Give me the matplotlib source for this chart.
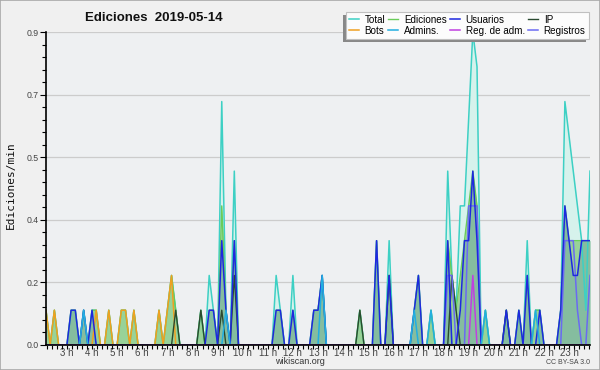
import matplotlib
matplotlib.use("Agg")
import matplotlib.pyplot as plt
from matplotlib.patches import Rectangle
from matplotlib.ticker import FixedLocator, MultipleLocator
import numpy as np

# 10-minute bins from 02:10 to 23:50, value = edits per minute
start_time = "02:10"
end_time = "23:50"

total_t = ["02:10", "02:30", "03:10", "03:20", "03:40", "04:00", "04:10", "04:40",
           "05:10", "05:20", "05:40", "06:40", "07:00", "07:10", "07:20", "08:20",
           "08:40", "08:50", "09:10", "09:20", "09:40", "11:20", "11:30", "12:00",
           "12:50", "13:00", "13:10", "14:40", "15:20", "15:50", "16:50", "17:00",
           "17:30", "18:10", "18:20", "18:30", "18:40", "18:50", "19:00", "19:10",
           "19:20", "19:40", "20:30", "21:00", "21:20", "21:40", "21:50", "22:40",
           "22:50", "23:00", "23:10", "23:20", "23:30", "23:40", "23:50"]
total_v = [0.1, 0.1, 0.1, 0.1, 0.1, 0.1, 0.1, 0.1,
           0.1, 0.1, 0.1, 0.1, 0.1, 0.2, 0.1, 0.1,
           0.2, 0.1, 0.7, 0.1, 0.5, 0.2, 0.1, 0.2,
           0.1, 0.1, 0.2, 0.1, 0.3, 0.3, 0.1, 0.2,
           0.1, 0.5, 0.2, 0.1, 0.4, 0.4, 0.65, 0.9,
           0.8, 0.1, 0.1, 0.1, 0.3, 0.1, 0.1, 0.1,
           0.7, 0.6, 0.5, 0.4, 0.3, 0.1, 0.5]

edits_t = ["02:10", "02:30", "03:10", "03:20", "03:40", "04:00", "04:10", "04:40",
           "05:10", "05:20", "05:40", "06:40", "07:00", "07:10", "07:20", "08:20",
           "08:40", "08:50", "09:10", "09:20", "09:40", "11:20", "11:30", "12:00",
           "12:50", "13:00", "13:10", "14:40", "15:20", "15:50", "16:50", "17:00",
           "17:30", "18:10", "18:20", "18:30", "18:40", "18:50", "19:00", "19:10",
           "19:20", "19:40", "20:30", "21:00", "21:20", "21:40", "21:50", "22:40",
           "22:50", "23:00", "23:10", "23:20", "23:30", "23:40", "23:50"]
edits_v = [0.1, 0.1, 0.1, 0.1, 0.1, 0.1, 0.1, 0.1,
           0.1, 0.1, 0.1, 0.1, 0.1, 0.2, 0.1, 0.1,
           0.1, 0.1, 0.4, 0.1, 0.3, 0.1, 0.1, 0.1,
           0.1, 0.1, 0.2, 0.1, 0.3, 0.2, 0.1, 0.2,
           0.1, 0.3, 0.2, 0.1, 0.2, 0.3, 0.4, 0.5,
           0.4, 0.1, 0.1, 0.1, 0.2, 0.1, 0.1, 0.1,
           0.4, 0.3, 0.3, 0.3, 0.3, 0.3, 0.3]

users_t = ["03:10", "03:20", "03:40", "04:00", "08:40", "08:50", "09:10", "09:20",
           "09:40", "11:20", "11:30", "12:00", "12:50", "13:00", "13:10", "15:20",
           "15:50", "16:50", "17:00", "18:10", "18:40", "18:50", "19:00", "19:10",
           "19:20", "20:30", "21:00", "21:20", "21:50", "22:40", "22:50", "23:00",
           "23:10", "23:20", "23:30", "23:40", "23:50"]
users_v = [0.1, 0.1, 0.1, 0.1, 0.1, 0.1, 0.3, 0.1,
           0.3, 0.1, 0.1, 0.1, 0.1, 0.1, 0.2, 0.3,
           0.2, 0.1, 0.2, 0.3, 0.1, 0.3, 0.3, 0.5,
           0.3, 0.1, 0.1, 0.2, 0.1, 0.1, 0.4, 0.3,
           0.2, 0.2, 0.3, 0.3, 0.3]

ip_t = ["07:20", "08:20", "09:10", "09:40", "14:40", "15:50", "18:20", "18:30", "20:30"]
ip_v = [0.1, 0.1, 0.1, 0.2, 0.1, 0.2, 0.2, 0.1, 0.1]

bots_t = ["02:10", "02:30", "04:10", "04:40", "05:10", "05:20", "05:40", "06:40",
          "07:00", "07:10"]
bots_v = [0.1, 0.1, 0.1, 0.1, 0.1, 0.1, 0.1, 0.1, 0.1, 0.2]

admins_t = ["03:40", "09:20", "13:10", "16:50", "17:30", "19:40", "21:40"]
admins_v = [0.1, 0.1, 0.2, 0.1, 0.1, 0.1, 0.1]

regadm_t = ["19:10"]
regadm_v = [0.2]

logs_t = ["18:10", "18:20", "19:00", "19:10", "19:20", "22:50", "23:00", "23:10",
          "23:20", "23:50"]
logs_v = [0.2, 0.2, 0.4, 0.4, 0.4, 0.3, 0.3, 0.3, 0.1, 0.2]

hour_labels = ["%d h" % h for h in range(3, 24)]


def to_hours(s):
    h, m = s.split(":")
    return int(h) + int(m) / 60


grid = np.arange(to_hours(start_time), to_hours(end_time) + 1e-6, 10 / 60)


def series(times, vals):
    y = np.zeros(len(grid))
    for t, v in zip(times, vals):
        y[int(round((to_hours(t) - grid[0]) * 6))] = v
    return y


total = series(total_t, total_v)
edits = series(edits_t, edits_v)
users = series(users_t, users_v)
ip = series(ip_t, ip_v)
bots = series(bots_t, bots_v)
admins = series(admins_t, admins_v)
regadm = series(regadm_t, regadm_v)
logs = series(logs_t, logs_v)

plt.rcParams["font.family"] = ["Liberation Sans", "DejaVu Sans"]

fig = plt.figure(figsize=(6, 3.7), dpi=100, facecolor="#f0f0f0")
ax = fig.add_axes([46 / 600, 25 / 370, 544 / 600, 313 / 370])
ax.set_facecolor("#eef0f2")

ax.fill_between(grid, total, color="#d6f2ec", lw=0, zorder=1)
ax.fill_between(grid, edits, color="#98d298", lw=0, zorder=2)
ax.fill_between(grid, users, color="#3060c0", alpha=0.18, lw=0, zorder=3)

ax.plot(grid, total, color="#3dd0c4", lw=1.1, zorder=4, label="Total")
ax.plot(grid, edits, color="#6acc5a", lw=1.0, zorder=5, label="Ediciones")
ax.plot(grid, bots, color="#f0a020", lw=1.1, zorder=6, label="Bots")
ax.plot(grid, ip, color="#2a4a30", lw=1.0, zorder=8, label="IP")
ax.plot(grid, logs, color="#6a6af2", lw=1.1, zorder=9, label="Registros")
ax.plot(grid, users, color="#1e28e0", lw=1.1, zorder=10, label="Usuarios")
ax.plot(grid, admins, color="#22aee0", lw=1.1, zorder=11, label="Admins.")
ax.plot(grid, regadm, color="#c040e0", lw=1.1, zorder=12, label="Reg. de adm.")

ax.set_xlim(grid[0], grid[-1])
ax.set_ylim(0, 0.9)

# y ticks at fifths of the max, labelled with one decimal
yt = np.linspace(0, 0.9, 6)
ax.yaxis.set_major_locator(FixedLocator(yt))
ax.set_yticklabels(["%.1f" % v for v in yt])
ax.yaxis.set_minor_locator(MultipleLocator(0.036))
ax.xaxis.set_major_locator(FixedLocator(range(3, 24)))
ax.set_xticklabels(hour_labels)
ax.xaxis.set_minor_locator(MultipleLocator(0.2))
ax.tick_params(axis="y", which="major", length=4, width=0.8, labelsize=6.3,
               labelcolor="#444444", pad=1)
ax.tick_params(axis="y", which="minor", length=3, width=0.8)
ax.tick_params(axis="x", which="both", length=3, width=0.8, labelsize=7,
               labelcolor="#444444", pad=-0.5)
ax.grid(axis="y", color="#cccccc", lw=0.9)
ax.set_axisbelow(True)
for side in ("top", "right"):
    ax.spines[side].set_visible(False)
for side in ("left", "bottom"):
    ax.spines[side].set_linewidth(1.2)
    ax.spines[side].set_zorder(20)

fig.text(11 / 600, 1 - 185 / 370, "Ediciones/min", family="DejaVu Sans Mono", fontsize=8,
         rotation=90, ha="center", va="center", color="#111111")
fig.text(85 / 600, 1 - 18 / 370, "Ediciones  2019-05-14", fontsize=9.5, weight="bold",
         va="center", ha="left", color="#111111")
fig.text(300 / 600, 1 - 362 / 370, "wikiscan.org", fontsize=6.5, ha="center", va="center",
         color="#333333")
fig.text(590 / 600, 1 - 363 / 370, "CC BY-SA 3.0", fontsize=5, ha="right", va="center",
         color="#444444")

handles, labels = ax.get_legend_handles_labels()
order = ["Total", "Bots", "Ediciones", "Admins.", "Usuarios", "Reg. de adm.", "IP", "Registros"]
hl = dict(zip(labels, handles))
leg = fig.legend([hl[k] for k in order], order, ncol=4, loc="upper left",
                 bbox_to_anchor=(346 / 600, 1 - 11.7 / 370), fontsize=7.1,
                 frameon=True, fancybox=False, borderpad=0.3, labelspacing=0.1,
                 handlelength=1.0, handletextpad=0.6, columnspacing=0.3,
                 borderaxespad=0)
leg.get_frame().set_facecolor("#fcfcfc")
leg.get_frame().set_edgecolor("#c0c0c0")
leg.get_frame().set_linewidth(0.8)
leg.get_frame().set_alpha(1)
leg.set_zorder(30)

fig.canvas.draw()
bb = leg.get_window_extent()
fig.patches.append(Rectangle((bb.x0 - 3, bb.y0 - 3), bb.width, bb.height, transform=None,
                             facecolor="#888888", edgecolor="none", zorder=25))
fig.patches.append(Rectangle((0, 0), 1, 1, transform=fig.transFigure, fill=False,
                             edgecolor="#a8a8a8", lw=1.2, zorder=40))

fig.savefig("out.png", dpi=100, facecolor=fig.get_facecolor())
